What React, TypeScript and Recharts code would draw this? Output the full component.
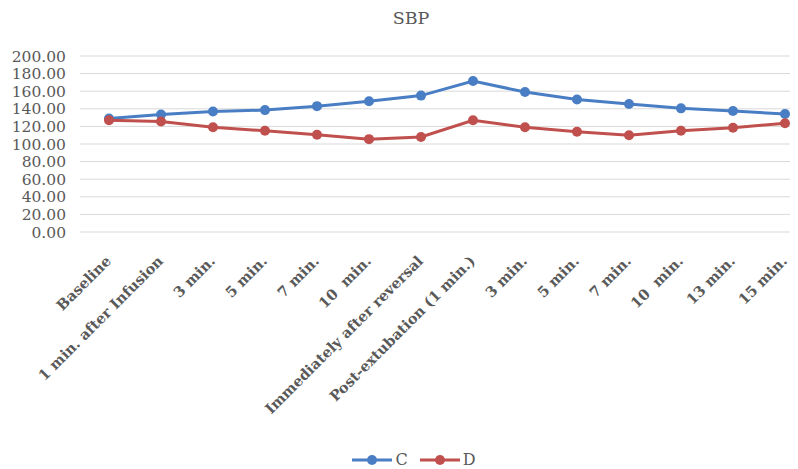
import React from "react";
import { LineChart, Line, XAxis, YAxis, CartesianGrid, Legend } from "recharts";

const categories = [
  "Baseline",
  "1 min. after Infusion",
  "3 min.",
  "5 min.",
  "7 min.",
  "10  min.",
  "Immediately after reversal",
  "Post-extubation (1 min.)",
  "3 min.",
  "5 min.",
  "7 min.",
  "10  min.",
  "13 min.",
  "15 min.",
];
const seriesC = [129, 133.5, 137, 138.5, 143, 148.5, 155, 171.5, 159, 150.5, 145.5, 140.5, 137.5, 134];
const seriesD = [127, 125.5, 119, 115, 110.5, 105.5, 108, 127, 119, 114, 110, 115, 118.5, 123.5];
const yTicks = [0, 20, 40, 60, 80, 100, 120, 140, 160, 180, 200];

const data = categories.map((c, i) => ({ idx: i, label: c, C: seriesC[i], D: seriesD[i] }));

const BLUE = "#4A7EC4";
const RED = "#C0504D";
const GRAY = "#595959";
const SERIF = "'DejaVu Serif', serif";

const XTick = (props: any) => {
  const { x, y, payload } = props;
  const ax = x + 3;
  const ay = y + 30;
  return (
    <text
      x={ax}
      y={ay}
      transform={`rotate(-45, ${ax}, ${ay})`}
      textAnchor="end"
      fill={GRAY}
      fontFamily={SERIF}
      fontWeight="bold"
      fontSize={14.5}
      style={{ whiteSpace: "pre" }}
    >
      {categories[payload.value]}
    </text>
  );
};

const LegendContent = () => {
  const items = [
    { name: "C", color: BLUE },
    { name: "D", color: RED },
  ];
  return (
    <div style={{ display: "flex", justifyContent: "center", alignItems: "center", height: 37, paddingTop: 18, boxSizing: "border-box", paddingLeft: 34 }}>
      {items.map((it) => (
        <div key={it.name} style={{ display: "flex", alignItems: "center", marginRight: 12 }}>
          <svg width={40} height={12}>
            <line x1={0} y1={6} x2={40} y2={6} stroke={it.color} strokeWidth={3} />
            <circle cx={20} cy={6} r={5} fill={it.color} />
          </svg>
          <span style={{ fontFamily: SERIF, fontSize: 16, color: GRAY, marginLeft: 3 }}>{it.name}</span>
        </div>
      ))}
    </div>
  );
};

export default function App() {
  return (
    <div style={{ position: "relative", width: 790, height: 461 }}>
      <div
        style={{
          position: "absolute",
          left: 0,
          top: -1,
          width: 806,
          textAlign: "center",
          fontFamily: SERIF,
          fontSize: 17.5,
          color: GRAY,
          lineHeight: "22px",
        }}
      >
        SBP
      </div>
      <LineChart width={790} height={461} data={data} margin={{ top: 48, right: 0, left: 0, bottom: 0 }}>
        <CartesianGrid vertical={false} stroke="#D9D9D9" strokeWidth={1} />
        <XAxis
          dataKey="idx"
          type="category"
          axisLine={false}
          tickLine={false}
          tickSize={0}
          tickMargin={0}
          interval={0}
          height={200}
          padding={{ left: 29, right: 13 }}
          tick={<XTick />}
        />
        <YAxis
          domain={[0, 200]}
          ticks={yTicks}
          interval={0}
          width={72}
          axisLine={false}
          tickLine={false}
          tickSize={0}
          tickMargin={14}
          tickFormatter={(v: number) => v.toFixed(2)}
          tick={{ fill: GRAY, fontFamily: SERIF, fontSize: 15.5 }}
        />
        <Legend verticalAlign="bottom" height={37} content={<LegendContent />} />
        <Line dataKey="C" stroke={BLUE} strokeWidth={3} dot={{ r: 5, fill: BLUE, stroke: BLUE, strokeWidth: 0 }} isAnimationActive={false} />
        <Line dataKey="D" stroke={RED} strokeWidth={3} dot={{ r: 5, fill: RED, stroke: RED, strokeWidth: 0 }} isAnimationActive={false} />
      </LineChart>
    </div>
  );
}
